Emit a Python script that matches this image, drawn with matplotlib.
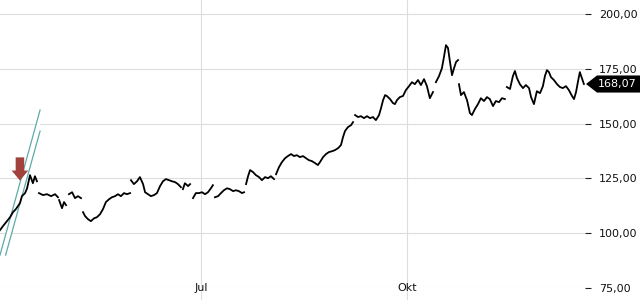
import numpy as np
import pandas as pd
import matplotlib
matplotlib.use("Agg")
import matplotlib.pyplot as plt
import matplotlib.dates as mdates
from matplotlib.patches import Polygon
from matplotlib.transforms import blended_transform_factory

START = pd.Timestamp("2024-04-02")
nan = np.nan

# day offsets from START and prices, nan breaks the line
days = [0, 1.3, 2.7, 4.5, 5.8, 7.1, 8.9, 9.8, 11.2, 12.1, 13.4, 14.7, 15.6, 16.5, 17.0,
        17.4, 19.2, 21.0, 22.8, 24.6, 25.9, 26.1,
        26.4, 27.7, 28.6, 29.5, 30.2,
        30.8, 32.2, 33.5, 34.8, 36.2, 36.6,
        37.1, 38.0, 39.3, 40.6, 42.0, 43.3, 44.7, 46.0, 47.3, 48.7, 50.0, 51.4, 52.7, 54.0,
        55.4, 56.7, 58.1, 58.3,
        58.5, 59.8, 61.2, 62.5, 63.9, 64.8, 66.1, 67.4, 68.8, 70.1, 71.5, 72.8, 74.1, 75.5,
        76.8, 78.2, 79.5, 80.8, 81.2,
        81.7, 82.6, 84.0, 84.9, 85.5,
        86.2, 87.5, 88.9, 90.2, 91.6, 92.9, 94.2, 95.1, 95.5,
        96.0, 97.4, 98.7, 100.0, 101.4, 102.7, 104.1, 105.4, 106.7, 108.1, 109.0, 109.4,
        109.9, 110.8, 111.7, 113.0, 114.3, 115.7, 117.0, 118.4, 119.7, 121.0, 122.4, 122.8,
        123.3, 124.6, 125.9, 127.3, 128.6, 130.0, 131.3, 132.6, 134.0, 135.3, 136.7, 138.0,
        139.3, 140.7, 142.0, 142.9, 144.3, 145.6, 146.9, 148.3, 149.6, 151.0, 152.3, 153.2,
        154.1, 155.4, 156.8, 157.7, 158.1,
        158.6, 159.9, 161.2, 162.6, 163.9, 165.3, 166.6, 167.9, 169.3, 170.2, 171.1, 172.0,
        172.8, 174.2, 175.5, 176.4, 177.3, 178.6, 180.0, 181.3, 182.7, 184.0, 185.3, 186.7,
        188.0, 189.4, 190.7, 192.0, 193.4, 194.0,
        194.7, 196.1, 197.4, 198.3, 199.2, 200.1, 201.0, 201.9, 202.8, 203.7, 204.6, 204.8,
        205.0, 205.9, 207.2, 208.6, 209.9, 210.8, 212.1, 213.5, 214.8, 216.2, 217.5, 218.8,
        220.2, 221.5, 222.9, 224.2, 225.5, 226.0,
        226.4, 227.8, 229.1, 230.0, 230.9, 232.2, 233.6, 234.9, 236.3, 237.2, 238.5, 239.8,
        241.2, 242.5, 243.4, 244.3, 245.2, 246.1, 247.4, 248.8, 250.1, 251.4, 252.8, 254.1,
        255.5, 256.4, 257.3, 258.2, 259.0, 259.9, 260.8]
prices = [101.4, 103.2, 105.0, 107.3, 109.6, 111.0, 113.7, 116.9, 118.3, 120.5, 126.5, 122.8, 126.0, 123.7, nan,
          118.3, 117.4, 117.8, 116.9, 117.8, 116.4, nan,
          115.1, 111.4, 114.2, 112.8, nan,
          117.8, 118.7, 116.0, 116.9, 116.0, nan,
          109.6, 107.8, 106.4, 105.5, 106.8, 107.3, 108.7, 111.0, 114.2, 115.5, 116.4, 116.9, 117.8, 116.9,
          118.3, 117.8, 118.3, nan,
          124.2, 122.4, 123.7, 125.6, 122.4, 118.7, 117.8, 116.9, 117.4, 118.3, 121.5, 123.7, 124.7, 124.2,
          123.7, 123.3, 122.4, 121.0, nan,
          120.1, 122.8, 121.5, 122.4, nan,
          116.0, 118.3, 118.3, 118.7, 117.8, 118.7, 120.5, 121.9, nan,
          116.4, 116.9, 118.3, 119.6, 120.5, 120.1, 119.2, 119.6, 119.2, 118.3, 118.7, nan,
          122.4, 126.0, 128.8, 127.9, 126.5, 125.6, 124.2, 125.6, 125.1, 126.0, 124.7, nan,
          126.9, 130.1, 132.4, 134.2, 135.2, 136.1, 135.2, 135.6, 134.7, 135.2, 134.2, 133.3,
          132.9, 132.0, 131.1, 132.4, 134.7, 136.1, 137.0, 137.4, 137.9, 138.8, 140.2, 143.8,
          146.6, 148.4, 149.3, 150.7, nan,
          153.9, 153.0, 153.4, 152.5, 153.4, 152.5, 153.0, 151.6, 153.9, 157.1, 160.7, 163.0,
          162.6, 161.2, 159.4, 158.9, 160.7, 162.1, 162.6, 165.3, 167.1, 168.9, 168.0, 169.9,
          167.6, 170.3, 167.1, 161.6, 164.4, nan,
          168.9, 171.7, 175.3, 180.4, 185.8, 184.5, 178.1, 172.1, 175.3, 178.1, 179.0, nan,
          168.0, 163.0, 164.4, 160.7, 154.8, 153.9, 156.6, 158.9, 161.6, 160.3, 162.1, 161.2,
          158.0, 160.3, 159.8, 161.6, 161.2, nan,
          166.7, 165.8, 171.7, 174.0, 170.8, 168.0, 166.2, 167.6, 166.2, 162.1, 158.9, 164.8,
          163.9, 167.1, 171.7, 174.4, 173.5, 171.2, 169.9, 168.0, 166.7, 166.2, 167.1, 165.3,
          162.6, 161.2, 164.4, 169.4, 173.5, 170.8, 168.07]

y_ticks = [75, 100, 125, 150, 175, 200]
month_ticks = ["2024-07-01", "2024-10-01"]
month_labels = ["Jul", "Okt"]
last_price = 168.07

# trend channel (start day, start price, end day, end price)
channel_upper = (0.0, 90.0, 17.9, 156.2)
channel_lower = (2.5, 90.0, 17.9, 146.6)
signal_day, signal_top, signal_tip = 8.9, 134.6, 124.0


def to_num(d):
    return mdates.date2num(START + pd.to_timedelta(d, unit="D"))


fig = plt.figure(figsize=(6.4, 3.0), dpi=100)
ax = fig.add_axes([0.0, 0.04, 585 / 640, 0.96])

x = [START + pd.to_timedelta(d, unit="D") for d in days]
ax.plot(x, prices, color="black", lw=1.3, zorder=4)

ax.set_xlim(to_num(0), to_num(261.3))
ax.set_ylim(75, 206.4)

# channel with white band
u0, u1 = (to_num(channel_upper[0]), channel_upper[1]), (to_num(channel_upper[2]), channel_upper[3])
l0, l1 = (to_num(channel_lower[0]), channel_lower[1]), (to_num(channel_lower[2]), channel_lower[3])
ax.add_patch(Polygon([u0, u1, l1, l0], closed=True, facecolor="white", edgecolor="none", zorder=2))
ax.plot([u0[0], u1[0]], [u0[1], u1[1]], color="#5fa9ab", lw=0.9, zorder=3, clip_on=False)
ax.plot([l0[0], l1[0]], [l0[1], l1[1]], color="#5fa9ab", lw=0.9, zorder=3, clip_on=False)

# signal arrow
ax.arrow(to_num(signal_day), signal_top, 0, signal_tip - signal_top,
         width=3.8, head_width=7.4, head_length=4.6, length_includes_head=True,
         facecolor="#a3423d", edgecolor="none", zorder=5)

# grid
ax.set_yticks(y_ticks)
ax.set_yticklabels([f"{v:.2f}".replace(".", ",") for v in y_ticks])
ax.set_xticks([mdates.date2num(pd.Timestamp(m)) for m in month_ticks])
ax.set_xticklabels([])
ax.grid(True, color="#dddddd", lw=0.8, zorder=0)
ax.set_axisbelow(True)
for s in ax.spines.values():
    s.set_visible(False)
ax.yaxis.tick_right()
ax.tick_params(axis="y", length=4, width=0.8, color="#222222", pad=6, labelsize=8,
               labelcolor="#111111")
ax.tick_params(axis="x", length=9, width=0.8, color="#dddddd")
for m, lab in zip(month_ticks, month_labels):
    ax.text(mdates.date2num(pd.Timestamp(m)), 75, lab, ha="center", va="center",
            fontsize=8, color="#111111", clip_on=False, zorder=6)

# last price tag
tr = blended_transform_factory(fig.transFigure, ax.transData)
h = 3.9
x_tip, x_box, x_end = 586 / 640, 597 / 640, 1.0
ax.add_patch(Polygon([(x_tip, last_price), (x_box, last_price + h), (x_end, last_price + h),
                      (x_end, last_price - h), (x_box, last_price - h)], closed=True,
                     transform=tr, facecolor="black", edgecolor="none", clip_on=False, zorder=7))
ax.text(597.5 / 640, last_price, f"{last_price:.2f}".replace(".", ","), transform=tr,
        ha="left", va="center", fontsize=8, color="white", zorder=8, clip_on=False)

fig.savefig("out.png", dpi=100)
